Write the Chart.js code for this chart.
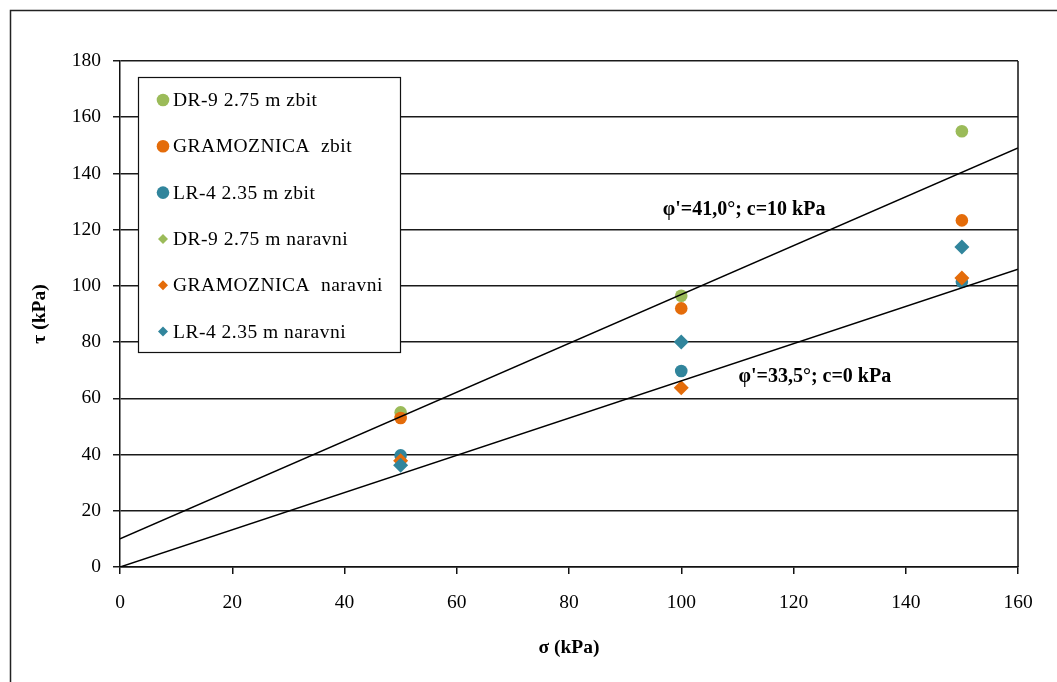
<!DOCTYPE html>
<html>
<head>
<meta charset="utf-8">
<title>Posmična čvrstoća</title>
<script src="https://cdn.jsdelivr.net/npm/chart.js@4.4.1/dist/chart.umd.min.js"></script>
<style>
  html, body { margin: 0; padding: 0; background: #fff; }
  #wrap { width: 1057px; height: 682px; position: relative; }
</style>
</head>
<body>
<div id="wrap"><canvas id="shearChart"></canvas></div>
<script>
// Normal stress levels (kPa)
const sigma = [50, 100, 150];

// Shear strength results (kPa)
const dr9Zbit = [55, 96.5, 155];
const gramZbit = [53, 92, 123.3];
const lr4Zbit = [39.7, 69.7, 101.5];
const dr9Naravni = [];
const gramNaravni = [37.8, 63.8, 102.8];
const lr4Naravni = [36.2, 80, 113.8];

const seriesNames = [
    'DR-9 2.75 m zbit', 'GRAMOZNICA  zbit', 'LR-4 2.35 m zbit',
    'DR-9 2.75 m naravni', 'GRAMOZNICA  naravni', 'LR-4 2.35 m naravni'
];
const seriesValues = [dr9Zbit, gramZbit, lr4Zbit, dr9Naravni, gramNaravni, lr4Naravni];
const seriesColors = ['#9BBB59', '#E46C0A', '#31859C', '#9BBB59', '#E46C0A', '#31859C'];
const seriesShapes = ['circle', 'circle', 'circle', 'rectRot', 'rectRot', 'rectRot'];

// Mohr-Coulomb envelopes: friction angle (deg) and cohesion (kPa)
const envPhi = [41.0, 33.5];
const envC = [10, 0];
const envLabels = ["φ'=41,0°; c=10 kPa", "φ'=33,5°; c=0 kPa"];
const envLabelPos = [[111.2, 127], [123.8, 67.6]];
const envSigma = [0, 160];

const xTicks = [0, 160, 20];
const yTicks = [0, 180, 20];

const serif = '"Liberation Serif", "Times New Roman", serif';

const pointDatasets = seriesNames.map((name, i) => ({
    label: name,
    data: seriesValues[i].map((v, k) => ({ x: sigma[k], y: v })),
    backgroundColor: seriesColors[i],
    borderColor: seriesColors[i],
    borderWidth: 0,
    pointStyle: seriesShapes[i],
    pointRadius: seriesShapes[i] === 'circle' ? 6.3 : 7.5,
    showLine: false,
    order: 10 - i
}));

const lineDatasets = envPhi.map((phi, i) => ({
    label: envLabels[i],
    type: 'line',
    data: envSigma.map(s => ({ x: s, y: envC[i] + Math.tan(phi * Math.PI / 180) * s })),
    borderColor: '#000',
    borderWidth: 1.5,
    pointRadius: 0,
    fill: false,
    order: 0
}));

// frame, plot border, envelope labels and the boxed legend
const decorations = {
    id: 'decorations',
    beforeDraw(chart) {
        const c = chart.ctx;
        c.save();
        c.fillStyle = '#fff';
        c.fillRect(0, 0, chart.width, chart.height);
        c.strokeStyle = '#222';
        c.lineWidth = 1.5;
        c.beginPath();
        c.moveTo(10.5, chart.height);
        c.lineTo(10.5, 10.5);
        c.lineTo(chart.width, 10.5);
        c.stroke();
        c.restore();
    },
    afterDraw(chart) {
        const c = chart.ctx;
        const a = chart.chartArea;
        const xs = chart.scales.x, ys = chart.scales.y;
        c.save();
        c.strokeStyle = '#111';
        c.lineWidth = 1.5;
        c.beginPath();
        c.moveTo(a.right, a.top);
        c.lineTo(a.right, a.bottom);
        c.stroke();

        c.fillStyle = '#000';
        c.font = 'bold 20px ' + serif;
        c.textAlign = 'center';
        c.textBaseline = 'middle';
        envLabels.forEach((t, i) => {
            c.fillText(t, xs.getPixelForValue(envLabelPos[i][0]), ys.getPixelForValue(envLabelPos[i][1]));
        });

        // legend box
        const bx = 138.5, by = 77.5, bw = 262, bh = 275;
        c.fillStyle = '#fff';
        c.fillRect(bx, by, bw, bh);
        c.strokeStyle = '#111';
        c.lineWidth = 1.2;
        c.strokeRect(bx, by, bw, bh);
        c.font = '19.5px ' + serif;
        c.textAlign = 'left';
        c.letterSpacing = '0.5px';
        seriesNames.forEach((name, i) => {
            const y = 100 + i * 46.3;
            c.fillStyle = seriesColors[i];
            c.beginPath();
            if (seriesShapes[i] === 'circle') {
                c.arc(163, y, 6.3, 0, Math.PI * 2);
            } else {
                c.moveTo(163, y - 5); c.lineTo(168, y); c.lineTo(163, y + 5); c.lineTo(158, y);
                c.closePath();
            }
            c.fill();
            c.fillStyle = '#000';
            c.fillText(name, 173, y + 1);
        });
        c.restore();
    }
};

new Chart(document.getElementById('shearChart'), {
    type: 'scatter',
    data: { datasets: [...pointDatasets, ...lineDatasets] },
    options: {
        responsive: true,
        maintainAspectRatio: false,
        animation: false,
        layout: { padding: { top: 61, right: 39, left: 0, bottom: 0 } },
        plugins: {
            legend: { display: false },
            tooltip: { enabled: false }
        },
        scales: {
            x: {
                type: 'linear',
                min: xTicks[0],
                max: xTicks[1],
                afterFit: s => { s.height = 115; },
                ticks: {
                    stepSize: xTicks[2],
                    color: '#000',
                    padding: 17,
                    maxRotation: 0,
                    font: { family: serif, size: 19.5 }
                },
                grid: { drawOnChartArea: false, drawTicks: true, tickLength: 7, color: '#111', lineWidth: 1.5 },
                border: { display: true, color: '#111', width: 1.5 },
                title: {
                    display: true,
                    text: 'σ (kPa)',
                    color: '#000',
                    font: { family: serif, size: 19.5, weight: 'bold' },
                    padding: { top: 0, bottom: 22 }
                }
            },
            y: {
                type: 'linear',
                min: yTicks[0],
                max: yTicks[1],
                afterFit: s => { s.width = 120; },
                ticks: {
                    stepSize: yTicks[2],
                    color: '#000',
                    padding: 12,
                    font: { family: serif, size: 19.5 }
                },
                grid: { drawTicks: true, tickLength: 7, color: '#1a1a1a', lineWidth: 1.5 },
                border: { display: true, color: '#111', width: 1.5 },
                title: {
                    display: true,
                    text: 'τ (kPa)',
                    color: '#000',
                    font: { family: serif, size: 19.5, weight: 'bold' },
                    padding: { top: 28, bottom: 0 }
                }
            }
        }
    },
    plugins: [decorations]
});
</script>
</body>
</html>
